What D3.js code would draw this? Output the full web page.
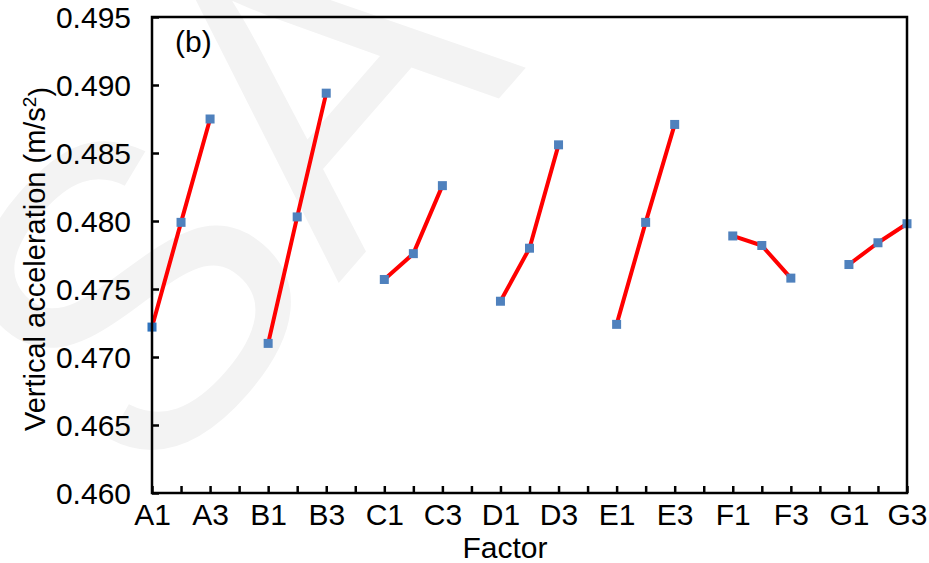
<!DOCTYPE html>
<html>
<head>
<meta charset="utf-8">
<script src="https://cdn.jsdelivr.net/npm/d3@7/dist/d3.min.js"></script>
<style>
  html, body { margin: 0; padding: 0; background: #fff; }
  svg { display: block; }
  text { font-family: "Liberation Sans", Arial, sans-serif; fill: #000; }
</style>
</head>
<body>
<svg id="chart" width="929" height="563"></svg>
<script>
// ---- data ----
const factors = ["A", "B", "C", "D", "E", "F", "G"];
const levelValues = [
  [0.4722, 0.4799, 0.4875],   // A1..A3
  [0.4710, 0.4803, 0.4894],   // B1..B3
  [0.4757, 0.4776, 0.4826],   // C1..C3
  [0.4741, 0.4780, 0.4856],   // D1..D3
  [0.4724, 0.4799, 0.4871],   // E1..E3
  [0.4789, 0.4782, 0.4758],   // F1..F3
  [0.4768, 0.4784, 0.4798]    // G1..G3
];
const xTickLabels = ["A1","A3","B1","B3","C1","C3","D1","D3","E1","E3","F1","F3","G1","G3"];
const yTicks = [0.460, 0.465, 0.470, 0.475, 0.480, 0.485, 0.490, 0.495];

// ---- layout ----
const svg = d3.select("#chart");
const L = 152, R = 907, T = 17, B = 493;
const nSlots = factors.length * 4 - 1; // 3 levels + 1 gap per factor

const x = d3.scaleLinear().domain([0, nSlots - 1]).range([L, R]);
const y = d3.scaleLinear().domain([0.460, 0.495]).range([B, T]);

// watermark (faint background letters)
svg.append("text")
  .attr("transform", "translate(150,500) rotate(-49)")
  .style("font-size", "430px")
  .style("fill", "#f3f3f3")
  .text("SA");

// series data
const pts = [];
factors.forEach((f, i) => {
  levelValues[i].forEach((v, j) => {
    pts.push({ f, lvl: j + 1, slot: i * 4 + j, v });
  });
});

// lines
const line = d3.line().x(d => x(d.slot)).y(d => y(d.v));
factors.forEach((f, i) => {
  svg.append("path")
    .datum(pts.filter(p => p.f === f))
    .attr("d", line)
    .attr("fill", "none")
    .attr("stroke", "#ff0000")
    .attr("stroke-width", 4)
    .attr("stroke-linejoin", "round");
});

// markers
const ms = 9;
svg.append("g").selectAll("rect").data(pts).join("rect")
  .attr("x", d => x(d.slot) - ms / 2)
  .attr("y", d => y(d.v) - ms / 2)
  .attr("width", ms).attr("height", ms)
  .attr("fill", d => (d.slot === 0 ? "#2f73bd" : "#4f81bd"));

// frame
svg.append("rect")
  .attr("x", L).attr("y", T).attr("width", R - L).attr("height", B - T)
  .attr("fill", "none").attr("stroke", "#000").attr("stroke-width", 2.5);

// y axis
const yAxis = d3.axisLeft(y).tickValues(yTicks).tickFormat(d3.format(".3f"))
  .tickSizeInner(-7).tickSizeOuter(0).tickPadding(21);
const gy = svg.append("g").attr("transform", `translate(${L},0)`).call(yAxis);
gy.select(".domain").remove();
gy.selectAll(".tick line").attr("stroke", "#000").attr("stroke-width", 2.5);
gy.selectAll(".tick text").style("font-size", "30px").attr("dy", "0.36em");

// x axis
const xTickSlots = d3.range(0, nSlots);
const xAxis = d3.axisBottom(x).tickValues(xTickSlots)
  .tickFormat(s => (s % 2 === 0 ? xTickLabels[s / 2] : ""))
  .tickSizeInner(-7).tickSizeOuter(0).tickPadding(11);
const gx = svg.append("g").attr("transform", `translate(0,${B})`).call(xAxis);
gx.select(".domain").remove();
gx.selectAll(".tick line").attr("stroke", "#000").attr("stroke-width", 2.5);
gx.selectAll(".tick text").style("font-size", "30px").attr("dy", "0.71em");

// axis titles
svg.append("text")
  .attr("x", 505).attr("y", 558)
  .attr("text-anchor", "middle")
  .style("font-size", "30px")
  .text("Factor");

const yt = svg.append("text")
  .attr("transform", "translate(45,259) rotate(-90)")
  .attr("text-anchor", "middle")
  .style("font-size", "29px");
yt.append("tspan").text("Vertical acceleration (m/s");
yt.append("tspan").attr("dy", "-0.45em").style("font-size", "19px").text("2");
yt.append("tspan").attr("dy", "0.45em").text(")");

// panel label
svg.append("text")
  .attr("x", 175).attr("y", 52)
  .style("font-size", "30px")
  .text("(b)");
</script>
</body>
</html>
